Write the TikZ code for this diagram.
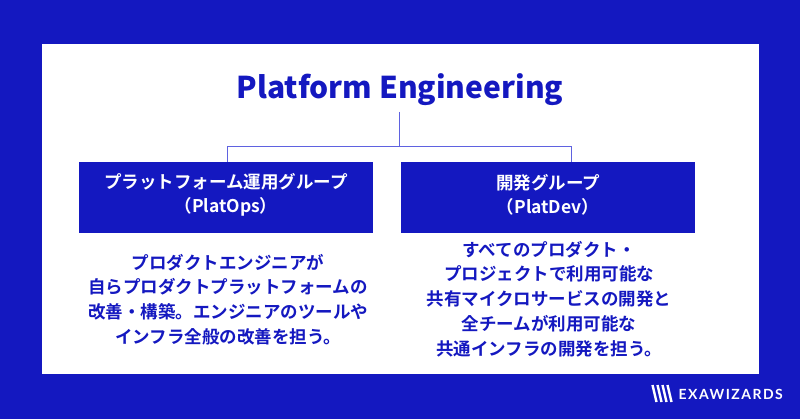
\documentclass[tikz,border=0pt]{standalone}
\usepackage{fontspec}
\setmainfont{Noto Sans CJK JP}
\newfontfamily\headfont{Noto Sans CJK JP Bold}
\newfontfamily\titlefont{Noto Sans CJK JP Black}
\newfontfamily\logofont[LetterSpace=10.5]{Lato Bold}
\definecolor{exablue}{HTML}{1418C0}
\definecolor{linkblue}{HTML}{5F62E0}
\tikzset{
  groupbox/.style={fill=exablue, text=white, inner sep=0pt, minimum width=294.5pt, minimum height=71.5pt},
  grouplabel/.style={text=white, align=center, inner sep=0pt, font=\headfont\fontsize{17.5}{24.6}\selectfont},
  bodytext/.style={text=exablue, align=center, inner sep=0pt, font=\headfont\fontsize{17.5}{24.8}\selectfont},
  link/.style={draw=linkblue, line width=1pt}
}
\begin{document}
\begin{tikzpicture}[x=1pt, y=-1pt]
 \useasboundingbox (0,0) rectangle (800,419);
 \fill[exablue] (0,0) rectangle (800,419);
 \fill[white] (42,44) rectangle (758.5,374);
 \node (title) [text=exablue, font=\titlefont\fontsize{30}{36}\selectfont] at (400,90) {Platform Engineering};
 \coordinate (top) at (399.5,112);
 \coordinate (mid) at (399.5,147);
 \node (ops) [groupbox] at (226,197.5) {};
 \node (dev) [groupbox] at (548,197.5) {};
 \node (opslabel) [grouplabel] at (226,195) {プラットフォーム運用グループ\\（PlatOps）};
 \node (devlabel) [grouplabel] at (548,195) {開発グループ\\（PlatDev）};
 \coordinate (opsup) at (227.5,161.75);
 \coordinate (devup) at (571,161.75);
 \draw[link] (top) -- (mid);
 \draw[link] (opsup) -- (opsup |- mid) -- (devup |- mid) -- (devup);
 \node (opstext) [bodytext] at (228,299.5) {プロダクトエンジニアが\\自らプロダクトプラットフォームの\\改善・構築。エンジニアのツールや\\インフラ全般の改善を担う。};
 \node (devtext) [bodytext] at (549,299) {すべてのプロダクト・\\プロジェクトで利用可能な\\共有マイクロサービスの開発と\\全チームが利用可能な\\共通インフラの開発を担う。};
 % logo
 \foreach \i in {0,1,2,3}
   \draw[white, line width=2.4pt] (652.5+\i*5,385) -- (656.5+\i*5,402);
 \node (logo) [text=white, anchor=west, inner sep=0pt, font=\logofont\fontsize{14}{16}\selectfont] at (678.5,394) {EXAWIZARDS};
\end{tikzpicture}
\end{document}
